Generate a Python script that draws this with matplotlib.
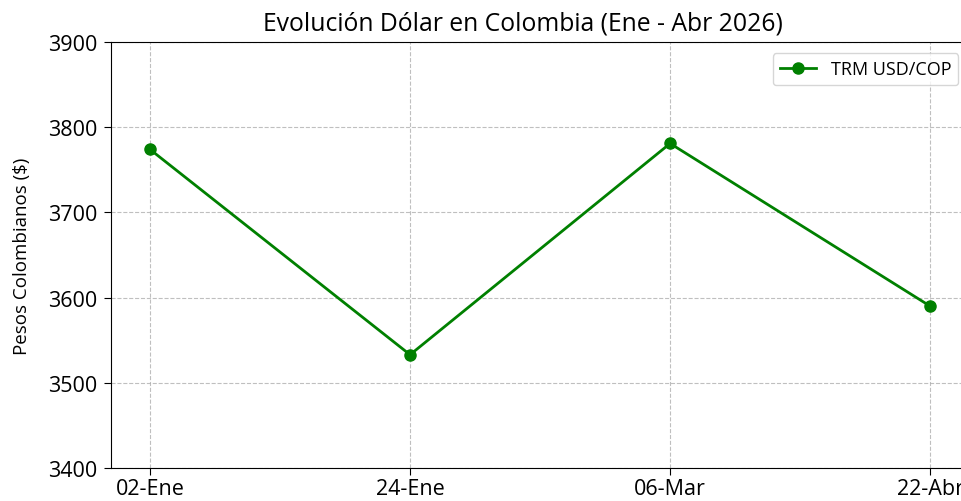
import matplotlib.pyplot as plt

fechas = ["02-Ene", "24-Ene", "06-Mar", "22-Abr"]
trm = [3774, 3533, 3781, 3590]
yticks = [3400, 3500, 3600, 3700, 3800, 3900]

plt.rcParams['font.family'] = ['Open Sans', 'DejaVu Sans']

fig = plt.figure(figsize=(9.61, 5.02), dpi=100)
# the original picture is cropped on the right, so the axes run past the edge
ax = fig.add_axes([0.1155, 0.0657, 0.893, 0.8485])

ax.plot(range(len(fechas)), trm, color='green', marker='o', markersize=8,
        linewidth=2, label='TRM USD/COP')

ax.set_xticks(range(len(fechas)))
ax.set_xticklabels(fechas, fontsize=15.5)
ax.set_ylim(3400, 3900)
ax.set_yticks(yticks)
ax.tick_params(axis='y', labelsize=15.5, length=5, pad=5)
ax.tick_params(axis='x', length=5, pad=2)
ax.set_ylabel('Pesos Colombianos ($)', fontsize=13.5)
ax.yaxis.set_label_coords(-0.093, 0.5)
ax.set_title('Evolución Dólar en Colombia (Ene - Abr 2026)', fontsize=17.8, x=0.48, pad=9)
ax.grid(True, linestyle='--', color='#b0b0b0', alpha=0.8)
ax.legend(loc='upper right', fontsize=13, borderaxespad=0.6)

fig.savefig('out.png', dpi=100)
